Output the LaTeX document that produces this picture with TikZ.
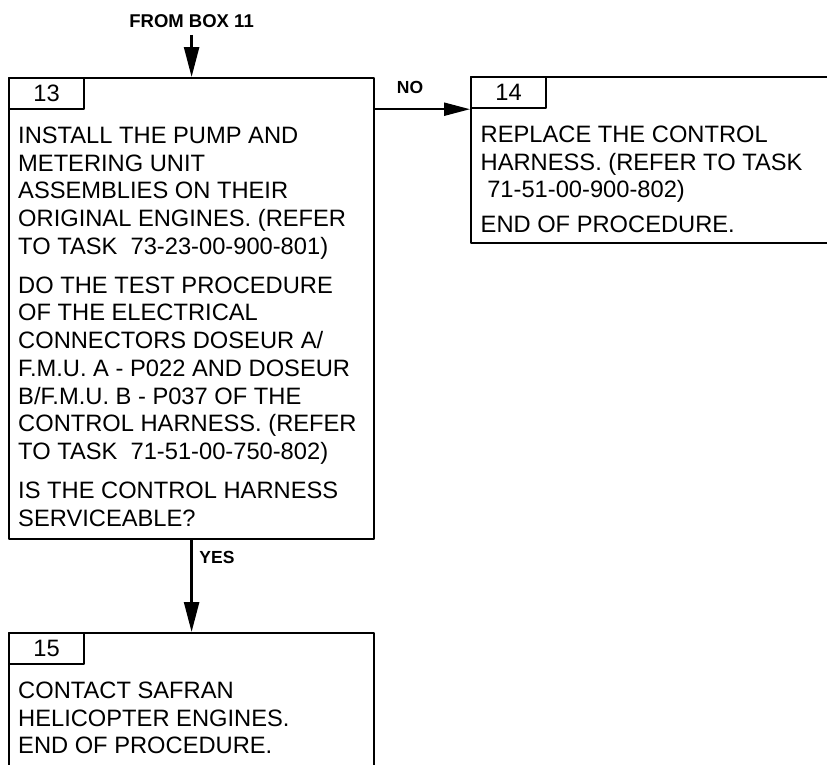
\documentclass[tikz,border=0pt]{standalone}
\usepackage{fontspec}
\setmainfont{Liberation Sans}
\usetikzlibrary{arrows.meta,calc}
\frenchspacing
\tikzset{
	procbox/.style={draw, line width=2.2pt, inner sep=0pt, minimum width=365, anchor=north west},
	numtab/.style={draw, line width=2.2pt, inner sep=0pt, minimum width=75, minimum height=31, anchor=north west, font=\fontsize{23.7}{27.7}\selectfont},
	boxtext/.style={anchor=north west, inner sep=0pt, align=left, font=\fontsize{23.7}{27.7}\selectfont},
	tag/.style={inner sep=2pt, font=\bfseries\fontsize{17.5}{20}\selectfont},
	flow/.style={line width=2.5pt, -{Triangle[length=30pt,width=15pt]}}
}
\begin{document}
\begin{tikzpicture}[x=1pt, y=1pt, line join=round]
	\def\G{13.6}
	\useasboundingbox (0,0) rectangle (827,-764);
	\clip (0,0) rectangle (827,-764);
	
	% Box 13
	\node[procbox, minimum height=461] (b13) at (8,-77) {};
	\node[numtab] (t13) at (b13.north west) {13};
	\node[boxtext] (x13) at ($(t13.south west)+(10,-\G)$) {\strut INSTALL THE PUMP AND\\
		METERING UNIT\\
		ASSEMBLIES ON THEIR\\
		ORIGINAL ENGINES. (REFER\\
		TO TASK~ 73-23-00-900-801)\\[11.3pt]
		DO THE TEST PROCEDURE\\
		OF THE ELECTRICAL\\
		CONNECTORS DOSEUR A/\\
		F.M.U. A - P022 AND DOSEUR\\
		B/F.M.U. B - P037 OF THE\\
		CONTROL HARNESS. (REFER\\
		TO TASK~ 71-51-00-750-802)\\[11.3pt]
		IS THE CONTROL HARNESS\\
		SERVICEABLE?};
	
	% Box 14
	\node[procbox, minimum width=420, minimum height=166] (b14) at (470,-76) {};
	\node[numtab] (t14) at (b14.north west) {14};
	\node[boxtext] (x14) at ($(t14.south west)+(10.5,-\G)$) {\strut REPLACE THE CONTROL\\
		HARNESS. (REFER TO TASK\\
		\ 71-51-00-900-802)\\[7.3pt]
		END OF PROCEDURE.};
	
	% Box 15
	\node[procbox, minimum height=150] (b15) at (8,-632) {};
	\node[numtab] (t15) at (b15.north west) {15};
	\node[boxtext] (x15) at ($(t15.south west)+(10,-\G)$) {\strut CONTACT SAFRAN\\
		HELICOPTER ENGINES.\\
		END OF PROCEDURE.};
	
	% Arrows
	\node[tag, font=\bfseries\fontsize{18.5}{20}\selectfont] (from) at ($(b13.north)+(0,56)$) {FROM BOX 11};
	\draw[flow, shorten <=5pt] (from.south) -- (b13.north);
	
	\draw[flow, line width=2.2pt, -{Triangle[length=26pt,width=13pt]}] (b13.east |- t14.south west) -- (t14.south west);
	\node[tag] (no) at (410,-87) {NO};
	
	\draw[flow] (b13.south) -- (b15.north);
	\node[tag] (yes) at (217,-557) {YES};
\end{tikzpicture}
\end{document}
